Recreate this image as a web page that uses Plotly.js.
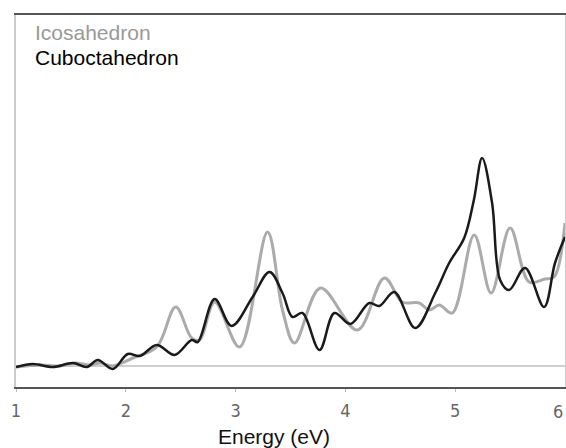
<!DOCTYPE html>
<html>
<head>
<meta charset="utf-8">
<script src="https://cdn.plot.ly/plotly-3.0.1.min.js"></script>
<style>html,body{margin:0;padding:0;background:#fff;}#chart{width:566px;height:448px;}</style>
</head>
<body>
<div id="chart"></div>
<script>
// Icosahedron (grey)
const icoEnergy = [1.0, 1.218, 1.4, 1.536, 1.673, 1.764, 1.882, 2.064, 2.282, 2.455, 2.6, 2.673, 2.809, 3.036, 3.291, 3.427, 3.536, 3.773, 4.109, 4.355, 4.518, 4.673, 4.764, 4.855, 4.973, 5.173, 5.327, 5.5, 5.673, 5.818, 5.9, 6.0];
const icoIntensity = [-0.01, 0.01, 0.0, 0.03, 0.01, 0.03, 0.0, 0.08, 0.19, 0.59, 0.28, 0.26, 0.64, 0.19, 1.34, 0.56, 0.23, 0.78, 0.36, 0.88, 0.64, 0.63, 0.56, 0.61, 0.53, 1.31, 0.73, 1.38, 0.84, 0.87, 0.89, 1.43];
// Cuboctahedron (black)
const cuboEnergy = [1.0, 1.155, 1.336, 1.518, 1.645, 1.745, 1.882, 2.018, 2.127, 2.282, 2.445, 2.6, 2.655, 2.809, 2.964, 3.155, 3.309, 3.427, 3.518, 3.609, 3.764, 3.9, 4.045, 4.218, 4.309, 4.445, 4.636, 4.818, 4.945, 5.082, 5.17, 5.245, 5.336, 5.409, 5.491, 5.636, 5.809, 5.909, 6.0];
const cuboIntensity = [-0.01, 0.02, -0.01, 0.03, -0.01, 0.06, -0.03, 0.12, 0.10, 0.21, 0.11, 0.26, 0.24, 0.67, 0.40, 0.69, 0.94, 0.73, 0.49, 0.53, 0.16, 0.53, 0.42, 0.63, 0.60, 0.74, 0.38, 0.73, 1.03, 1.28, 1.66, 2.08, 1.63, 0.86, 0.76, 0.98, 0.59, 1.03, 1.29];
const xTicks = [1, 2, 3, 4, 5, 6];
const seriesNames = ["Icosahedron", "Cuboctahedron"];
const xTitle = "Energy (eV)";

const tickFont = {family: 'DejaVu Sans Condensed, Liberation Sans Narrow, sans-serif', size: 18, color: '#666'};

const traces = [
  {x: icoEnergy, y: icoIntensity, type: 'scatter', mode: 'lines', name: seriesNames[0],
   line: {color: '#ababab', width: 3, shape: 'spline', smoothing: 1}},
  {x: cuboEnergy, y: cuboIntensity, type: 'scatter', mode: 'lines', name: seriesNames[1],
   line: {color: '#1a1a1a', width: 2.5, shape: 'spline', smoothing: 1}}
];

const layout = {
  width: 566, height: 448,
  margin: {l: 16, r: 1, t: 15, b: 61},
  paper_bgcolor: '#fff', plot_bgcolor: '#fff',
  showlegend: false,
  xaxis: {
    range: [1, 6], tickvals: xTicks.slice(0, 5), ticktext: xTicks.slice(0, 5).map(String),
    showgrid: false, zeroline: false,
    showline: true, linecolor: '#555', linewidth: 2, mirror: true,
    ticks: 'outside', ticklen: 3, tickcolor: '#bbb',
    ticklabelstandoff: 3,
    tickfont: tickFont
  },
  yaxis: {
    range: [-0.21, 3.51], showticklabels: false, ticks: '', showgrid: false,
    zeroline: true, zerolinecolor: '#cfcfcf', zerolinewidth: 2,
    showline: true, linecolor: '#cccccc', linewidth: 2, mirror: true
  },
  annotations: [
    {xref: 'x', yref: 'paper', x: xTicks[5], y: -0.067, xanchor: 'right', yanchor: 'middle', showarrow: false,
     text: String(xTicks[5]), font: tickFont},
    {xref: 'paper', yref: 'paper', x: 0.47, y: -0.134, xanchor: 'center', yanchor: 'middle', showarrow: false,
     text: xTitle, font: {family: 'Liberation Sans, Arial, sans-serif', size: 21, color: '#111'}},
    {xref: 'paper', yref: 'paper', x: 0.031, y: 0.99, xanchor: 'left', yanchor: 'top', showarrow: false,
     text: seriesNames[0], font: {family: 'Liberation Sans, Arial, sans-serif', size: 21, color: '#999'}},
    {xref: 'paper', yref: 'paper', x: 0.031, y: 0.922, xanchor: 'left', yanchor: 'top', showarrow: false,
     text: seriesNames[1], font: {family: 'Liberation Sans, Arial, sans-serif', size: 21, color: '#000'}}
  ]
};

Plotly.newPlot('chart', traces, layout, {displayModeBar: false, staticPlot: true});
</script>
</body>
</html>
